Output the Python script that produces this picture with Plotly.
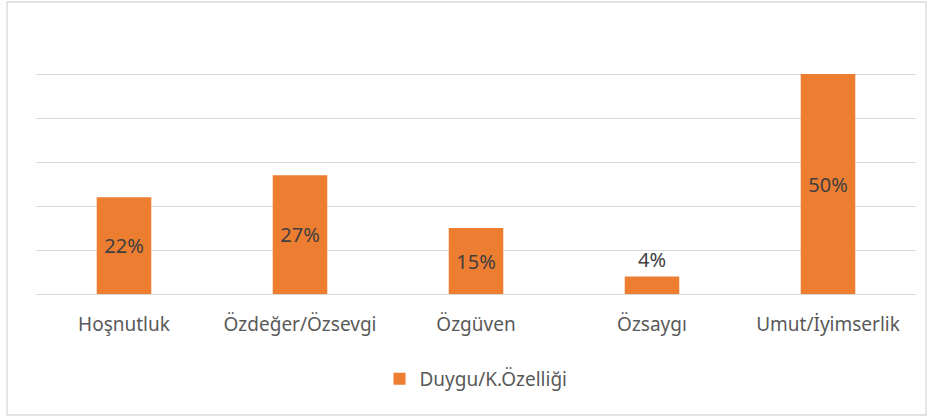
import plotly.graph_objects as go

categories = ["Hoşnutluk", "Özdeğer/Özsevgi", "Özgüven", "Özsaygı", "Umut/İyimserlik"]
values = [0.22, 0.27, 0.15, 0.04, 0.50]
labels = ["22%", "27%", "15%", "4%", "50%"]
series_name = "Duygu/K.Özelliği"

W, H = 934, 418
ml, mr, mt, mb = 36, 18, 30, 124
pw, ph = W - ml - mr, H - mt - mb

def px(x):
    return (x - ml) / pw

def py(y):
    return (H - mb - y) / ph

text_col = "#595959"
font = "Noto Sans"

fig = go.Figure(go.Bar(
    x=categories, y=values, name=series_name,
    marker=dict(color="#ED7D31", line=dict(width=0)),
    text=labels,
    textposition=["inside", "inside", "inside", "outside", "inside"],
    insidetextanchor="middle",
    textfont=dict(color="#404040", size=20, family=font),
    cliponaxis=False,
    constraintext="none",
    width=0.31,
    showlegend=True,
    hoverinfo="skip",
))

fig.update_layout(
    width=W, height=H,
    margin=dict(l=ml, r=mr, t=mt, b=mb),
    paper_bgcolor="white", plot_bgcolor="white",
    font=dict(family=font, color=text_col, size=19),
    xaxis=dict(showline=False, ticks="", tickfont=dict(size=19, color=text_col), ticklabelstandoff=17),
    yaxis=dict(range=[0, 0.6], dtick=0.1, showticklabels=False, showgrid=True,
               gridcolor="#d9d9d9", gridwidth=1.3, zeroline=True, zerolinecolor="#d9d9d9", zerolinewidth=1.3),
    legend=dict(orientation="h", x=0.5, xanchor="center", y=py(379), yanchor="middle",
                font=dict(size=19, color=text_col), itemwidth=30),
    shapes=[dict(type="rect", xref="paper", yref="paper",
                 x0=px(7), x1=px(926), y0=py(415), y1=py(2),
                 line=dict(color="#d9d9d9", width=1.3), fillcolor="rgba(0,0,0,0)", layer="below")],
)

fig.write_html("out.html", config={"displayModeBar": False},
               post_script="document.body.style.margin='0px';document.body.style.padding='0px';")
